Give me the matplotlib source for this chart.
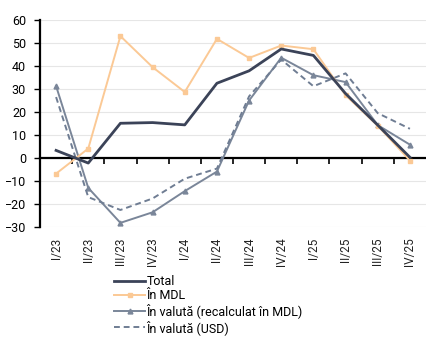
import matplotlib.pyplot as plt
import numpy as np

plt.rcParams['font.family'] = ['Roboto', 'DejaVu Sans']

labels = ['I/23', 'II/23', 'III/23', 'IV/23', 'I/24', 'II/24', 'III/24', 'IV/24',
          'I/25', 'II/25', 'III/25', 'IV/25']
total = [3.3, -2.2, 15.1, 15.4, 14.4, 32.5, 37.9, 47.4, 44.6, 28.0, 14.3, 0.3]
in_mdl = [-6.8, 4.1, 53.0, 39.5, 28.7, 51.8, 43.5, 48.9, 47.3, 27.3, 14.0, -1.1]
valuta_mdl = [31.3, -13.0, -28.2, -23.6, -14.4, -5.9, 25.0, 43.6, 36.0, 33.0, 14.3, 5.8]
valuta_usd = [26.5, -17.0, -22.6, -17.6, -9.0, -4.6, 26.8, 42.8, 31.2, 36.8, 19.5, 12.7]

x = np.arange(len(labels))

fig = plt.figure(figsize=(4.26, 3.38), dpi=100)
ax = fig.add_axes([40/426, 1-227/338, 386/426, 207/338])

ax.plot(x, total, color='#3b4358', lw=2.0, label='Total', zorder=5)
ax.plot(x, in_mdl, color='#fbc995', lw=1.4, marker='s', ms=3, label='În MDL', zorder=4)
ax.plot(x, valuta_mdl, color='#7a8699', lw=1.4, marker='^', ms=3.5, label='În valută (recalculat în MDL)', zorder=3)
ax.plot(x, valuta_usd, color='#6f7d93', lw=1.4, ls=(0, (3, 2)), label='În valută (USD)', zorder=3)

ax.set_xlim(-0.5, 11.5)
ax.set_ylim(-30, 60)
ax.set_yticks(range(-30, 61, 10))
ax.yaxis.grid(True, color='#e6e6e6', lw=0.8)
ax.set_axisbelow(True)

ax.spines['top'].set_visible(False)
ax.spines['right'].set_visible(False)
ax.spines['bottom'].set_position(('data', 0))
ax.spines['bottom'].set_linewidth(1.6)
ax.spines['left'].set_linewidth(1.6)

ax.set_xticks(np.arange(0.5, 11.5, 1))
ax.set_xticklabels([])
ax.tick_params(axis='x', direction='out', length=4, width=1.2, color='black')
ax.tick_params(axis='y', length=4, width=1.0, labelsize=9, pad=6)

for i, lab in enumerate(labels):
    ax.text(i, -0.05, lab, transform=ax.get_xaxis_transform(), rotation=90,
            ha='center', va='top', fontsize=8.5, color='#222222')

fig.legend(loc='upper left', bbox_to_anchor=(114/426, 1-275/338), frameon=False,
           fontsize=9, handlelength=2.5, handletextpad=0.1, labelspacing=0.1,
           borderaxespad=0, borderpad=0)

fig.savefig('out.png', dpi=100)
